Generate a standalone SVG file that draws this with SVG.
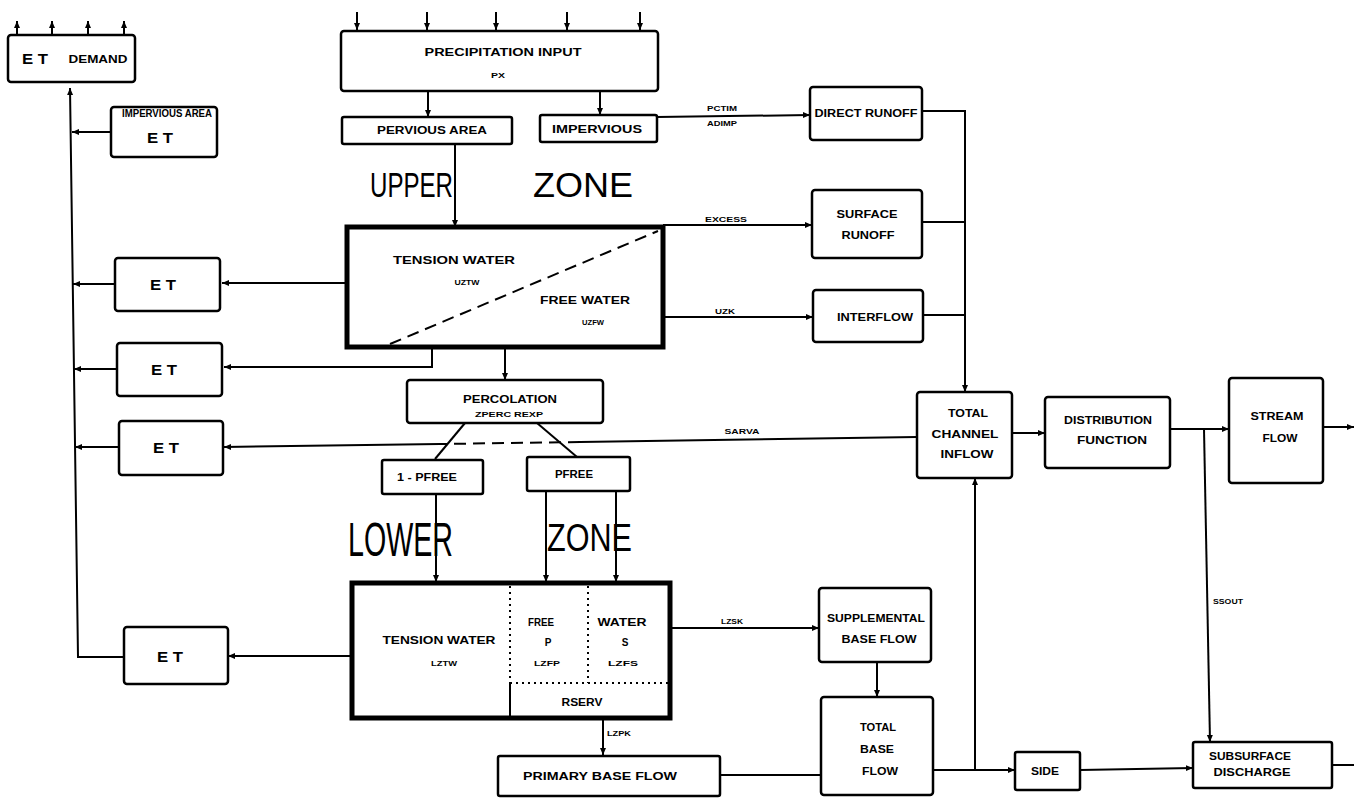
<svg xmlns="http://www.w3.org/2000/svg" width="1354" height="798" viewBox="0 0 1354 798">
<style>
.box{fill:#fff;stroke:#000;stroke-width:2.5}
.thick{fill:#fff;stroke:#000;stroke-width:5}
.t{font-family:"Liberation Sans",Arial,sans-serif;font-weight:bold;font-size:10px;text-anchor:middle;fill:#000}
.s{font-size:7px}
.et{font-size:15px}
.big{font-family:"Liberation Sans",Arial,sans-serif;font-weight:normal;fill:#000}
.ln{stroke:#000;stroke-width:2;fill:none}
.a{marker-end:url(#ah)}
.dash{stroke-dasharray:12 7}
.dot{stroke:#000;stroke-width:2;stroke-dasharray:2 4;fill:none}
</style>
<defs>
<marker id="ah" markerUnits="userSpaceOnUse" markerWidth="8" markerHeight="8" refX="7" refY="4" orient="auto">
<path d="M0,1 L7,4 L0,7 Z" fill="#000"/>
</marker>
</defs>
<rect width="1354" height="798" fill="#fff"/>

<g id="connectors">
<!-- ET demand top arrows -->
<line class="ln a" x1="17" y1="35" x2="17" y2="21"/>
<line class="ln a" x1="52" y1="35" x2="52" y2="21"/>
<line class="ln a" x1="88" y1="35" x2="88" y2="21"/>
<line class="ln a" x1="124" y1="35" x2="124" y2="21"/>
<!-- precip top arrows -->
<line class="ln a" x1="357" y1="12" x2="357" y2="30"/>
<line class="ln a" x1="427" y1="12" x2="427" y2="30"/>
<line class="ln a" x1="496" y1="12" x2="496" y2="30"/>
<line class="ln a" x1="567" y1="12" x2="567" y2="30"/>
<line class="ln a" x1="640" y1="12" x2="640" y2="30"/>
<!-- ET collector -->
<path class="ln a" d="M124,657 L78,657 L70,88"/>
<line class="ln a" x1="111" y1="132" x2="72" y2="132"/>
<line class="ln a" x1="115" y1="284" x2="73" y2="284"/>
<line class="ln a" x1="117" y1="369" x2="74" y2="369"/>
<line class="ln a" x1="119" y1="447" x2="75" y2="447"/>
<!-- upper zone to ET -->
<line class="ln a" x1="347" y1="283" x2="222" y2="283"/>
<path class="ln a" d="M432,347 L432,367 L224,367"/>
<!-- precip -->
<line class="ln a" x1="428" y1="91" x2="428" y2="117"/>
<line class="ln a" x1="600" y1="91" x2="600" y2="115"/>
<line class="ln a" x1="455" y1="143" x2="455" y2="227"/>
<line class="ln a" x1="657" y1="117" x2="810" y2="115"/>
<line class="ln a" x1="663" y1="225" x2="812" y2="225"/>
<line class="ln a" x1="663" y1="317" x2="813" y2="317"/>
<!-- runoff collector -->
<path class="ln a" d="M922,111 L965,111 L965,392"/>
<line class="ln" x1="922" y1="222" x2="965" y2="222"/>
<line class="ln" x1="923" y1="315" x2="965" y2="315"/>
<!-- percolation -->
<line class="ln a" x1="505" y1="347" x2="505" y2="380"/>
<line class="ln" x1="465" y1="423" x2="435" y2="459"/>
<line class="ln" x1="537" y1="423" x2="577" y2="457"/>
<line class="ln a" x1="436" y1="494" x2="436" y2="582"/>
<line class="ln a" x1="546" y1="491" x2="546" y2="582"/>
<line class="ln a" x1="616" y1="491" x2="616" y2="582"/>
<!-- SARVA -->
<line class="ln" x1="917" y1="437" x2="580" y2="442"/>
<line class="ln dash" x1="580" y1="442" x2="440" y2="444"/>
<line class="ln a" x1="440" y1="444" x2="224" y2="447"/>
<!-- lower zone -->
<line class="ln a" x1="352" y1="656" x2="228" y2="656"/>
<line class="ln a" x1="670" y1="628" x2="819" y2="628"/>
<line class="ln a" x1="877" y1="662" x2="877" y2="697"/>
<line class="ln a" x1="603" y1="718" x2="603" y2="755"/>
<line class="ln" x1="720" y1="775" x2="821" y2="775"/>
<line class="ln a" x1="933" y1="770" x2="1015" y2="770"/>
<line class="ln a" x1="975" y1="770" x2="975" y2="478"/>
<line class="ln a" x1="1080" y1="770" x2="1193" y2="768"/>
<line class="ln" x1="1332" y1="765" x2="1354" y2="765"/>
<!-- channel -->
<line class="ln a" x1="1012" y1="433" x2="1045" y2="433"/>
<line class="ln a" x1="1170" y1="429" x2="1229" y2="429"/>
<line class="ln a" x1="1204" y1="429" x2="1210" y2="742"/>
<line class="ln a" x1="1323" y1="427" x2="1354" y2="427"/>
<text class="t s" x="722" y="111" textLength="30" lengthAdjust="spacingAndGlyphs">PCTIM</text>
<text class="t s" x="722" y="126" textLength="30" lengthAdjust="spacingAndGlyphs">ADIMP</text>
<text class="t s" x="726" y="222" textLength="42" lengthAdjust="spacingAndGlyphs">EXCESS</text>
<text class="t s" x="725" y="314" textLength="20" lengthAdjust="spacingAndGlyphs">UZK</text>
<text class="t s" x="742" y="434" textLength="35" lengthAdjust="spacingAndGlyphs">SARVA</text>
<text class="t s" x="732" y="624" textLength="22" lengthAdjust="spacingAndGlyphs">LZSK</text>
<text class="t s" x="619" y="736" textLength="24" lengthAdjust="spacingAndGlyphs">LZPK</text>
<text class="t s" x="1228" y="604" textLength="30" lengthAdjust="spacingAndGlyphs">SSOUT</text>
</g>

<g id="zone-labels">
<text class="big" x="370" y="197" font-size="35" textLength="83" lengthAdjust="spacingAndGlyphs">UPPER</text>
<text class="big" x="533" y="197" font-size="35" textLength="100" lengthAdjust="spacingAndGlyphs">ZONE</text>
<text class="big" x="348" y="556" font-size="48" textLength="105" lengthAdjust="spacingAndGlyphs">LOWER</text>
<text class="big" x="547" y="551" font-size="39" textLength="85" lengthAdjust="spacingAndGlyphs">ZONE</text>
</g>

<g id="et-demand">
<rect class="box" x="8" y="35" width="127" height="47" rx="3"/>
<text class="t et" x="35" y="64" textLength="26" lengthAdjust="spacingAndGlyphs">E T</text>
<text class="t" x="98" y="63" font-size="11" textLength="59" lengthAdjust="spacingAndGlyphs">DEMAND</text>
</g>
<g id="impervious-et">
<rect class="box" x="111" y="107" width="106" height="50" rx="3"/>
<text class="t" x="167" y="117" font-size="6" textLength="90" lengthAdjust="spacingAndGlyphs">IMPERVIOUS AREA</text>
<text class="t et" x="160" y="143" textLength="26" lengthAdjust="spacingAndGlyphs">E T</text>
</g>
<g id="et1">
<rect class="box" x="115" y="258" width="105" height="53" rx="3"/>
<text class="t et" x="163" y="290" textLength="26" lengthAdjust="spacingAndGlyphs">E T</text>
</g>
<g id="et2">
<rect class="box" x="117" y="343" width="105" height="53" rx="3"/>
<text class="t et" x="164" y="375" textLength="26" lengthAdjust="spacingAndGlyphs">E T</text>
</g>
<g id="et3">
<rect class="box" x="119" y="421" width="104" height="54" rx="3"/>
<text class="t et" x="166" y="453" textLength="26" lengthAdjust="spacingAndGlyphs">E T</text>
</g>
<g id="et4">
<rect class="box" x="124" y="627" width="104" height="57" rx="3"/>
<text class="t et" x="170" y="662" textLength="26" lengthAdjust="spacingAndGlyphs">E T</text>
</g>

<g id="precipitation-input">
<rect class="box" x="341" y="31" width="317" height="60" rx="3"/>
<text class="t" x="503" y="56" font-size="11" textLength="157" lengthAdjust="spacingAndGlyphs">PRECIPITATION INPUT</text>
<text class="t s" x="498" y="78" textLength="14" lengthAdjust="spacingAndGlyphs">PX</text>
</g>
<g id="pervious-area">
<rect class="box" x="342" y="117" width="170" height="27" rx="2"/>
<text class="t" x="432" y="134" textLength="110" lengthAdjust="spacingAndGlyphs">PERVIOUS AREA</text>
</g>
<g id="impervious">
<rect class="box" x="540" y="115" width="117" height="27" rx="2"/>
<text class="t" x="597" y="133" textLength="90" lengthAdjust="spacingAndGlyphs">IMPERVIOUS</text>
</g>

<g id="upper-zone">
<rect class="thick" x="347" y="227" width="316" height="120"/>
<line class="ln dash" x1="390" y1="344" x2="658" y2="231"/>
<text class="t" x="454" y="264" font-size="11" textLength="122" lengthAdjust="spacingAndGlyphs">TENSION WATER</text>
<text class="t s" x="467" y="285" textLength="25" lengthAdjust="spacingAndGlyphs">UZTW</text>
<text class="t" x="585" y="304" font-size="11" textLength="90" lengthAdjust="spacingAndGlyphs">FREE WATER</text>
<text class="t s" x="593" y="325" textLength="22" lengthAdjust="spacingAndGlyphs">UZFW</text>
</g>

<g id="direct-runoff">
<rect class="box" x="810" y="87" width="112" height="53" rx="3"/>
<text class="t" x="866" y="117" textLength="103" lengthAdjust="spacingAndGlyphs">DIRECT RUNOFF</text>
</g>
<g id="surface-runoff">
<rect class="box" x="812" y="190" width="110" height="68" rx="3"/>
<text class="t" x="867" y="218" textLength="61" lengthAdjust="spacingAndGlyphs">SURFACE</text>
<text class="t" x="868" y="239" textLength="53" lengthAdjust="spacingAndGlyphs">RUNOFF</text>
</g>
<g id="interflow">
<rect class="box" x="813" y="290" width="110" height="52" rx="3"/>
<text class="t" x="875" y="321" textLength="76" lengthAdjust="spacingAndGlyphs">INTERFLOW</text>
</g>

<g id="percolation">
<rect class="box" x="407" y="380" width="196" height="43" rx="3"/>
<text class="t" x="510" y="403" font-size="11" textLength="94" lengthAdjust="spacingAndGlyphs">PERCOLATION</text>
<text class="t s" x="509" y="417" textLength="68" lengthAdjust="spacingAndGlyphs">ZPERC REXP</text>
</g>
<g id="one-minus-pfree">
<rect class="box" x="382" y="460" width="101" height="34" rx="2"/>
<text class="t" x="427" y="481" textLength="60" lengthAdjust="spacingAndGlyphs">1 - PFREE</text>
</g>
<g id="pfree">
<rect class="box" x="527" y="457" width="103" height="34" rx="2"/>
<text class="t" x="574" y="478" textLength="38" lengthAdjust="spacingAndGlyphs">PFREE</text>
</g>

<g id="lower-zone">
<rect class="thick" x="352" y="583" width="318" height="135"/>
<line class="dot" x1="510" y1="586" x2="510" y2="683"/>
<line class="ln" x1="510" y1="683" x2="510" y2="716"/>
<line class="dot" x1="588" y1="586" x2="588" y2="683"/>
<line class="dot" x1="510" y1="683" x2="668" y2="683"/>
<text class="t" x="439" y="644" textLength="113" lengthAdjust="spacingAndGlyphs">TENSION WATER</text>
<text class="t s" x="444" y="666" textLength="26" lengthAdjust="spacingAndGlyphs">LZTW</text>
<text class="t" x="541" y="626" textLength="26" lengthAdjust="spacingAndGlyphs">FREE</text>
<text class="t" x="548" y="646">P</text>
<text class="t s" x="547" y="666" textLength="26" lengthAdjust="spacingAndGlyphs">LZFP</text>
<text class="t" x="622" y="626" textLength="49" lengthAdjust="spacingAndGlyphs">WATER</text>
<text class="t" x="625" y="646">S</text>
<text class="t s" x="623" y="666" textLength="30" lengthAdjust="spacingAndGlyphs">LZFS</text>
<text class="t" x="582" y="706" textLength="41" lengthAdjust="spacingAndGlyphs">RSERV</text>
</g>

<g id="primary-base-flow">
<rect class="box" x="498" y="756" width="222" height="40" rx="2"/>
<text class="t" x="600" y="780" textLength="154" lengthAdjust="spacingAndGlyphs">PRIMARY BASE FLOW</text>
</g>
<g id="supplemental-base-flow">
<rect class="box" x="819" y="588" width="112" height="74" rx="3"/>
<text class="t" x="876" y="622" textLength="98" lengthAdjust="spacingAndGlyphs">SUPPLEMENTAL</text>
<text class="t" x="879" y="643" textLength="75" lengthAdjust="spacingAndGlyphs">BASE FLOW</text>
</g>
<g id="total-base-flow">
<rect class="box" x="821" y="697" width="112" height="98" rx="3"/>
<text class="t" x="878" y="731" textLength="36" lengthAdjust="spacingAndGlyphs">TOTAL</text>
<text class="t" x="877" y="753" textLength="34" lengthAdjust="spacingAndGlyphs">BASE</text>
<text class="t" x="880" y="775" textLength="36" lengthAdjust="spacingAndGlyphs">FLOW</text>
</g>
<g id="side">
<rect class="box" x="1015" y="752" width="65" height="38" rx="2"/>
<text class="t" x="1045" y="775" textLength="28" lengthAdjust="spacingAndGlyphs">SIDE</text>
</g>
<g id="subsurface-discharge">
<rect class="box" x="1193" y="742" width="139" height="46" rx="2"/>
<text class="t" x="1250" y="760" textLength="82" lengthAdjust="spacingAndGlyphs">SUBSURFACE</text>
<text class="t" x="1252" y="776" textLength="77" lengthAdjust="spacingAndGlyphs">DISCHARGE</text>
</g>
<g id="total-channel-inflow">
<rect class="box" x="917" y="392" width="95" height="86" rx="3"/>
<text class="t" x="968" y="417" textLength="40" lengthAdjust="spacingAndGlyphs">TOTAL</text>
<text class="t" x="965" y="438" textLength="67" lengthAdjust="spacingAndGlyphs">CHANNEL</text>
<text class="t" x="967" y="458" textLength="53" lengthAdjust="spacingAndGlyphs">INFLOW</text>
</g>
<g id="distribution-function">
<rect class="box" x="1045" y="397" width="125" height="71" rx="3"/>
<text class="t" x="1108" y="424" textLength="88" lengthAdjust="spacingAndGlyphs">DISTRIBUTION</text>
<text class="t" x="1112" y="444" textLength="70" lengthAdjust="spacingAndGlyphs">FUNCTION</text>
</g>
<g id="stream-flow">
<rect class="box" x="1229" y="378" width="94" height="105" rx="3"/>
<text class="t" x="1277" y="420" textLength="53" lengthAdjust="spacingAndGlyphs">STREAM</text>
<text class="t" x="1280" y="442" textLength="35" lengthAdjust="spacingAndGlyphs">FLOW</text>
</g>
</svg>
